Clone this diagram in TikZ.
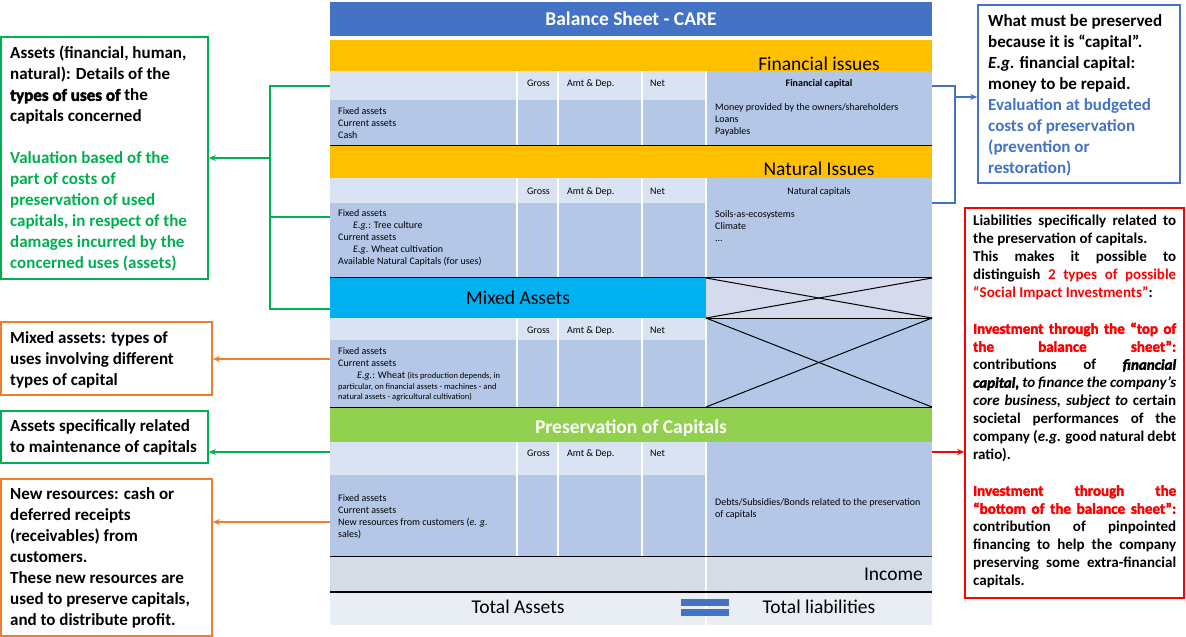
\documentclass[tikz,border=0pt]{standalone}
\usepackage{fontspec}
\setmainfont{Carlito}
\newfontfamily\heavyfont{Carlito}[BoldFeatures={FakeBold=2.5},BoldItalicFeatures={FakeBold=2.5}]
\usetikzlibrary{arrows.meta}
\definecolor{cTitle}{HTML}{4472C4}
\definecolor{cOrange}{HTML}{FFC000}
\definecolor{cCyan}{HTML}{00B0F0}
\definecolor{cGreenBar}{HTML}{92D050}
\definecolor{cHdr}{HTML}{DAE3F3}
\definecolor{cBody}{HTML}{B4C7E7}
\definecolor{cCross}{HTML}{D5DBEC}
\definecolor{cIncome}{HTML}{D6DCE5}
\definecolor{cTotal}{HTML}{E9EDF4}
\definecolor{aGreen}{HTML}{00B050}
\definecolor{aOrange}{HTML}{ED7D31}
\definecolor{aBlue}{HTML}{4472C4}
\definecolor{aRed}{HTML}{FF0000}
\newcommand\hv[1]{{\heavyfont\bfseries #1}}
\newcommand\gr[1]{\textcolor{aGreen}{#1}}
\newcommand\bl[1]{\textcolor{aBlue}{#1}}
\newcommand\jfull[1]{\makebox[203pt][s]{#1}}
\newcommand\jlast[1]{\makebox[203pt][l]{#1}}
\begin{document}
\begin{tikzpicture}[x=1pt,y=-1pt,
  sm/.style={font=\fontsize{10}{12}\selectfont, inner sep=0pt, align=left, anchor=north west},
  hd/.style={font=\fontsize{10}{12}\selectfont, inner sep=0pt},
  big/.style={font=\fontsize{19.5}{23}\selectfont, inner sep=0pt, anchor=base},
  bigb/.style={font=\fontsize{19.5}{23}\selectfont\bfseries, inner sep=0pt, anchor=base, text=white},
  ann/.style={font=\fontsize{17}{21}\selectfont\bfseries, inner sep=0pt, align=left, anchor=north west},
  abox/.style={draw=#1, line width=1.6pt, inner sep=0pt},
  sep/.style={white, line width=1.6pt},
  blk/.style={black, line width=1.4pt},
  cline/.style={line width=1.2pt, draw=#1},
  arr/.style={-{Stealth[length=7pt,width=6pt]}, line width=1.2pt, draw=#1}
]
\useasboundingbox (0,0) rectangle (1186,637);
\fill[white] (0,0) rectangle (1186,637);

% ---------- title
\fill[cTitle] (330,2) rectangle (932,36);
\node[bigb] (title) at (631,25) {Balance Sheet - CARE};

% ---------- financial
\fill[cOrange] (330,40) rectangle (932,71);
\fill[cHdr] (330,71) rectangle (706,100);
\fill[cBody] (330,100) rectangle (706,145);
\fill[cBody] (706,71) rectangle (932,145);
\foreach \x in {517,558,642,706} \draw[sep] (\x,71) -- (\x,145);
\draw[blk] (330,145.5) -- (932,145.5);

% ---------- natural
\fill[cOrange] (330,146) rectangle (932,178);
\fill[cHdr] (330,178) rectangle (706,203);
\fill[cBody] (330,203) rectangle (706,277);
\fill[cBody] (706,178) rectangle (932,277);
\foreach \x in {517,558,642,706} \draw[sep] (\x,178) -- (\x,277);
\draw[blk] (330,277.5) -- (932,277.5);

% ---------- mixed
\fill[cCyan] (330,278) rectangle (706,318);
\fill[cCross] (706,278) rectangle (932,318);
\fill[cHdr] (330,318) rectangle (706,340);
\fill[cBody] (330,340) rectangle (706,407);
\fill[cBody] (706,318) rectangle (932,407);
\foreach \x in {517,558,642,706} \draw[sep] (\x,318) -- (\x,407);
\draw[line width=1pt] (706,278) -- (932,318);
\draw[line width=1pt] (706,318) -- (932,278);
\draw[line width=1pt] (706,318) -- (932,407);
\draw[line width=1pt] (706,407) -- (932,318);
\draw[blk] (706,318.5) -- (932,318.5);
\draw[blk] (330,407.5) -- (932,407.5);

% ---------- preservation
\fill[cGreenBar] (330,408) rectangle (932,442);
\fill[cHdr] (330,442) rectangle (706,475);
\fill[cBody] (330,475) rectangle (706,556);
\fill[cBody] (706,442) rectangle (932,556);
\foreach \x in {517,558,642,706} \draw[sep] (\x,442) -- (\x,556);
\draw[blk] (330,556.5) -- (932,556.5);

% ---------- income and totals
\fill[cIncome] (330,557) rectangle (932,591.5);
\draw[sep] (706,557) -- (706,591.5);
\draw[blk] (330,592) -- (932,592);
\fill[cTotal] (330,593) rectangle (932,625);
\draw[sep] (706,593) -- (706,625);
\fill[cTitle] (681,599) rectangle (729,606);
\fill[cTitle] (681,609) rectangle (729,616);

% ---------- bar labels
\node[big] (finissues) at (819,70) {Financial issues};
\node[big] (natissues) at (819,175) {Natural Issues};
\node[big] (mixed) at (518,304) {Mixed Assets};
\node[bigb] (pres) at (631,433) {Preservation of Capitals};
\node[big, anchor=base east] (income) at (923,580) {Income};
\node[big] (totassets) at (518,613) {Total Assets};
\node[big] (totliab) at (819,613) {Total liabilities};

% ---------- column headers
\foreach \y/\n in {86.5/a,194/b,333.5/c,456.5/d}{
  \node[hd, anchor=base] (gross-\n) at (538.5,\y) {Gross};
  \node[hd, anchor=base west] (amt-\n) at (567,\y) {Amt \& Dep.};
  \node[hd, anchor=base west] (net-\n) at (650,\y) {Net};
}
\node[hd, anchor=base, font=\fontsize{10}{12}\selectfont\bfseries] (fincap) at (819,86.5) {Financial capital};
\node[hd, anchor=base] (natcap) at (819,194) {Natural capitals};

% ---------- cell texts
\node[sm] (finL) at (338,107) {Fixed assets\\Current assets\\Cash};
\node[sm] (finR) at (715,103) {Money provided by the owners/shareholders\\Loans\\Payables};
\node[sm] (natL) at (338,209) {Fixed assets\\\hspace*{15pt}\textit{E.g.}: Tree culture\\Current assets\\\hspace*{15pt}\textit{E.g}. Wheat cultivation\\Available Natural Capitals (for uses)};
\node[sm] (natR) at (715,210) {Soils-as-ecosystems\\Climate\\...};
\node[sm] (mixL) at (338,347) {Fixed assets\\Current assets\\\hspace*{19pt}\textit{E.g.}: Wheat {\fontsize{8.5}{11}\selectfont(its production depends, in}\\[-1pt]{\fontsize{8.5}{11}\selectfont particular, on financial assets - machines - and}\\[-2pt]{\fontsize{8.5}{11}\selectfont natural assets - agricultural cultivation)}};
\node[sm] (presL) at (338,494) {Fixed assets\\Current assets\\New resources from customers (\textit{e. g.}\\sales)};
\node[sm] (presR) at (715,498) {Debts/Subsidies/Bonds related to the preservation\\of capitals};

% ---------- annotation boxes
\node[abox=aGreen, minimum width=207pt, minimum height=242pt] (b1) at (104.5,158) {};
\node[abox=aOrange, minimum width=211pt, minimum height=73pt] (b2) at (106.5,358.5) {};
\node[abox=aGreen, minimum width=207pt, minimum height=52pt] (b3) at (104.5,437) {};
\node[abox=aOrange, minimum width=211pt, minimum height=157pt] (b4) at (106.5,557.5) {};
\node[abox=aBlue, minimum width=202pt, minimum height=178pt] (b5) at (1079,94) {};
\node[abox=aRed, minimum width=219pt, minimum height=390pt] (b6) at (1074.5,403) {};

\node[ann] (t1) at (10,46) {Assets (financial, human,\\natural): Details of the\\\hv{types of uses of} the\\capitals concerned\\[21pt]\gr{Valuation based of the}\\\gr{part of costs of}\\\gr{preservation of used}\\\gr{capitals, in respect of the}\\\gr{damages incurred by the}\\\gr{concerned uses (assets)}};
\node[ann] (t2) at (10,331) {Mixed assets: types of\\uses involving different\\types of capital};
\node[ann] (t3) at (10,419) {Assets specifically related\\to maintenance of capitals};
\node[ann] (t4) at (10,487) {New resources: cash or\\deferred receipts\\(receivables) from\\customers.\\These new resources are\\used to preserve capitals,\\and to distribute profit.};
\node[ann] (t5) at (988,14) {What must be preserved\\because it is “capital”.\\\textit{E.g.} financial capital:\\money to be repaid.\\\bl{Evaluation at budgeted}\\\bl{costs of preservation}\\\bl{(prevention or}\\\bl{restoration)}};
\node[ann, font=\fontsize{15}{18}\selectfont\bfseries] (t6) at (973,215) {%
\jfull{Liabilities specifically related to}\\
\jlast{the preservation of capitals.}\\
\jfull{This makes it possible to}\\
\jfull{distinguish \textcolor{aRed}{2 types of possible}}\\
\jlast{\textcolor{aRed}{“Social Impact Investments”}:}\\[18pt]
\jfull{\textcolor{aRed}{\hv{Investment through the “top of}}}\\
\jfull{\textcolor{aRed}{\hv{the balance sheet”:}}}\\
\jfull{contributions of \hv{\itshape financial}}\\
\jfull{\hv{\itshape capital,} \itshape to finance the company’s}\\
\jfull{\itshape core business, subject to \upshape certain}\\
\jfull{societal performances of the}\\
\jfull{company (\textit{e.g.} good natural debt}\\
\jlast{ratio).}\\[18pt]
\jfull{\textcolor{aRed}{\hv{Investment through the}}}\\
\jfull{\textcolor{aRed}{\hv{“bottom of the balance sheet”:}}}\\
\jfull{contribution of pinpointed}\\
\jfull{financing to help the company}\\
\jfull{preserving some extra-financial}\\
\jlast{capitals.}};

% ---------- connectors
\coordinate (gA) at (330,86);
\coordinate (gB) at (330,217);
\coordinate (gC) at (330,309);
\coordinate (gT) at (270,86);
\coordinate (gM) at (270,217);
\coordinate (gBt) at (270,309);
\coordinate (gJ) at (270,158);
\draw[cline=aGreen] (gA) -- (gT) -- (gBt) -- (gC);
\draw[cline=aGreen] (gB) -- (gM);
\draw[arr=aGreen] (gJ) -- (gJ -| b1.east);

\coordinate (oA) at (330,359);
\draw[arr=aOrange] (oA) -- (oA -| b2.east);
\coordinate (gD) at (330,452);
\draw[arr=aGreen] (gD) -- (gD -| b3.east);
\coordinate (oB) at (330,522);
\draw[arr=aOrange] (oB) -- (oB -| b4.east);

\coordinate (bA) at (932,86);
\coordinate (bB) at (932,203);
\coordinate (bT) at (955,86);
\coordinate (bBt) at (955,203);
\coordinate (bJ) at (955,97);
\draw[cline=aBlue] (bA) -- (bT) -- (bBt) -- (bB);
\draw[arr=aBlue] (bJ) -- (bJ -| b5.west);

\coordinate (rA) at (932,452);
\draw[arr=aRed] (rA) -- (rA -| b6.west);
\end{tikzpicture}
\end{document}
